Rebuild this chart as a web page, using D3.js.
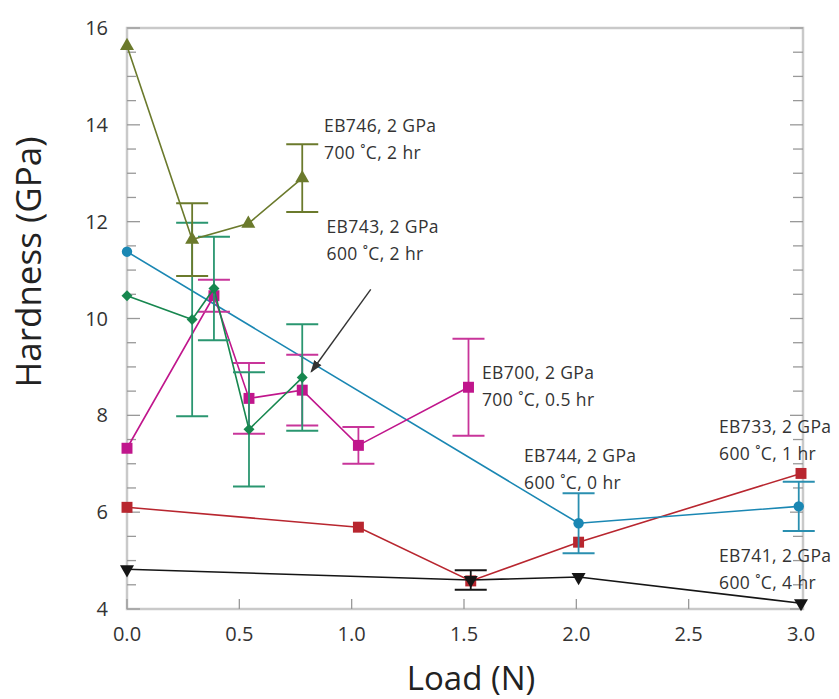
<!DOCTYPE html>
<html>
<head>
<meta charset="utf-8">
<script src="https://cdn.jsdelivr.net/npm/d3@7"></script>
<style>
  body { margin: 0; background: #fff; }
  text { font-family: "Open Sans", "Noto Sans", sans-serif; }
</style>
</head>
<body>
<div id="chart"></div>
<script>
// values
var loadEB746 = [0, 0.29, 0.54, 0.78],
    hardEB746 = [15.63, 11.63, 11.96, 12.9],
    errEB746  = [0, 0.75, 0, 0.7];

var loadEB744 = [0, 2.01, 2.99],
    hardEB744 = [11.38, 5.77, 6.12],
    errEB744  = [0, 0.62, 0.51];

var loadEB743 = [0, 0.29, 0.387, 0.543, 0.78],
    hardEB743 = [10.47, 9.98, 10.62, 7.71, 8.78],
    errEB743  = [0, 2.0, 1.07, 1.18, 1.1];

var loadEB700 = [0, 0.387, 0.543, 0.78, 1.03, 1.52],
    hardEB700 = [7.32, 10.47, 8.35, 8.52, 7.38, 8.58],
    errEB700  = [0, 0.33, 0.73, 0.73, 0.38, 1.0];

var loadEB733 = [0, 1.03, 1.53, 2.01, 3.0],
    hardEB733 = [6.1, 5.69, 4.58, 5.38, 6.8],
    errEB733  = [0, 0, 0, 0, 0];

var loadEB741 = [0, 1.53, 2.01, 3.0],
    hardEB741 = [4.82, 4.6, 4.66, 4.12],
    errEB741  = [0, 0.2, 0, 0];

var xTicks = [0, 0.5, 1.0, 1.5, 2.0, 2.5, 3.0],
    yTicks = [4, 6, 8, 10, 12, 14, 16];

var width = 839, height = 699;
var margin = {top: 28, right: 36, bottom: 90, left: 127};

var svg = d3.select("#chart").append("svg")
    .attr("width", width)
    .attr("height", height);

var x = d3.scaleLinear().domain([0, 3.0]).range([margin.left, 801]);
var y = d3.scaleLinear().domain([4, 16]).range([609, margin.top]);
var xRight = 803;

// frame
svg.append("rect")
    .attr("x", margin.left)
    .attr("y", y(16))
    .attr("width", xRight - margin.left)
    .attr("height", y(4) - y(16))
    .attr("fill", "none")
    .attr("stroke", "#c9c9c9")
    .attr("stroke-width", 2.5);

// inward ticks
var minorY = d3.range(4, 16.01, 0.5);
svg.selectAll(".ytl").data(minorY).enter().append("line")
    .attr("x1", margin.left)
    .attr("x2", function(d) { return margin.left + (d % 2 == 0 ? 13 : 9); })
    .attr("y1", function(d) { return y(d); })
    .attr("y2", function(d) { return y(d); })
    .attr("stroke", "#999").attr("stroke-width", 1.3);
svg.selectAll(".ytr").data(minorY).enter().append("line")
    .attr("x1", xRight)
    .attr("x2", function(d) { return xRight - (d % 2 == 0 ? 13 : 10); })
    .attr("y1", function(d) { return y(d); })
    .attr("y2", function(d) { return y(d); })
    .attr("stroke", "#999").attr("stroke-width", 1.3);
svg.selectAll(".xt").data(xTicks).enter().append("line")
    .attr("x1", function(d) { return x(d); })
    .attr("x2", function(d) { return x(d); })
    .attr("y1", y(4))
    .attr("y2", y(4) - 10)
    .attr("stroke", "#999").attr("stroke-width", 1.3);

// tick labels
svg.selectAll(".yl").data(yTicks).enter().append("text")
    .attr("x", 108)
    .attr("y", function(d) { return y(d) + 7; })
    .attr("text-anchor", "end")
    .attr("font-size", 20)
    .attr("fill", "#333")
    .text(function(d) { return d; });
svg.selectAll(".xl").data(xTicks).enter().append("text")
    .attr("x", function(d) { return x(d); })
    .attr("y", 641)
    .attr("text-anchor", "middle")
    .attr("font-size", 20)
    .attr("fill", "#333")
    .text(function(d) { return d3.format(".1f")(d); });

// axis titles
svg.append("text")
    .attr("transform", "translate(41,262) rotate(-90)")
    .attr("text-anchor", "middle")
    .attr("font-size", 35)
    .attr("fill", "#222")
    .text("Hardness (GPa)");
svg.append("text")
    .attr("x", 471)
    .attr("y", 690)
    .attr("text-anchor", "middle")
    .attr("font-size", 33)
    .attr("fill", "#222")
    .text("Load (N)");

var series = [
  {name: "EB733", xs: loadEB733, ys: hardEB733, es: errEB733, color: "#b8262f", err: "#b8262f", shape: "square"},
  {name: "EB741", xs: loadEB741, ys: hardEB741, es: errEB741, color: "#151515", err: "#151515", shape: "down"},
  {name: "EB744", xs: loadEB744, ys: hardEB744, es: errEB744, color: "#1a87b3", err: "#2a8fb0", shape: "circle"},
  {name: "EB700", xs: loadEB700, ys: hardEB700, es: errEB700, color: "#c0168c", err: "#c8359a", shape: "square"},
  {name: "EB743", xs: loadEB743, ys: hardEB743, es: errEB743, color: "#17874f", err: "#2a9670", shape: "diamond"},
  {name: "EB746", xs: loadEB746, ys: hardEB746, es: errEB746, color: "#6b7a2c", err: "#6b7a2c", shape: "up"}
];

var line = d3.line()
    .x(function(d) { return x(d[0]); })
    .y(function(d) { return y(d[1]); });

series.forEach(function(s) {
  var pts = s.xs.map(function(v, i) { return [v, s.ys[i], s.es[i]]; });
  var g = svg.append("g");

  g.append("path")
      .datum(pts)
      .attr("d", line)
      .attr("fill", "none")
      .attr("stroke", s.color)
      .attr("stroke-width", 1.6);

  var bars = pts.filter(function(d) { return d[2] > 0; });
  bars.forEach(function(d) {
    var cx = x(d[0]), top = y(d[1] + d[2]), bot = y(d[1] - d[2]);
    g.append("line").attr("x1", cx).attr("x2", cx).attr("y1", top).attr("y2", bot)
        .attr("stroke", s.err).attr("stroke-width", 1.8);
    [top, bot].forEach(function(cy) {
      g.append("line").attr("x1", cx - 16).attr("x2", cx + 16).attr("y1", cy).attr("y2", cy)
          .attr("stroke", s.err).attr("stroke-width", 2);
    });
  });

  var sym;
  if (s.shape == "square") sym = d3.symbol().type(d3.symbolSquare).size(120);
  else if (s.shape == "circle") sym = d3.symbol().type(d3.symbolCircle).size(85);
  else if (s.shape == "diamond") sym = d3.symbol().type(d3.symbolSquare).size(60);
  else sym = d3.symbol().type(d3.symbolTriangle).size(85);

  g.selectAll(".m").data(pts).enter().append("path")
      .attr("d", sym)
      .attr("transform", function(d) {
        var r = s.shape == "diamond" ? 45 : (s.shape == "down" ? 180 : 0);
        return "translate(" + x(d[0]) + "," + y(d[1]) + ") rotate(" + r + ")";
      })
      .attr("fill", s.color);
});

// annotations
var notes = [
  {lx: 0.877, ly: 13.85, l1: "EB746, 2 GPa", l2: "700 \u02DAC, 2 hr"},
  {lx: 0.888, ly: 11.77, l1: "EB743, 2 GPa", l2: "600 \u02DAC, 2 hr"},
  {lx: 1.580, ly: 8.76, l1: "EB700, 2 GPa", l2: "700 \u02DAC, 0.5 hr"},
  {lx: 1.767, ly: 7.03, l1: "EB744, 2 GPa", l2: "600 \u02DAC, 0 hr"},
  {lx: 2.635, ly: 7.63, l1: "EB733, 2 GPa", l2: "600 \u02DAC, 1 hr"},
  {lx: 2.635, ly: 4.97, l1: "EB741, 2 GPa", l2: "600 \u02DAC, 4 hr"}
];
notes.forEach(function(n) {
  var t = svg.append("text")
      .attr("x", x(n.lx))
      .attr("y", y(n.ly))
      .attr("font-size", 17.5)
      .attr("letter-spacing", 0.4)
      .attr("fill", "#333");
  t.append("tspan").attr("x", x(n.lx)).text(n.l1);
  t.append("tspan").attr("x", x(n.lx)).attr("dy", 27).text(n.l2);
});

// arrow to EB743
svg.append("defs").append("marker")
    .attr("id", "ah")
    .attr("viewBox", "0 0 10 10")
    .attr("refX", 9).attr("refY", 5)
    .attr("markerWidth", 9).attr("markerHeight", 9)
    .attr("orient", "auto")
    .append("path").attr("d", "M0,1.5 L10,5 L0,8.5 Z").attr("fill", "#333");
svg.append("line")
    .attr("x1", x(1.085)).attr("y1", y(10.6))
    .attr("x2", x(0.82)).attr("y2", y(8.9))
    .attr("stroke", "#333")
    .attr("stroke-width", 1.4)
    .attr("marker-end", "url(#ah)");
</script>
</body>
</html>
